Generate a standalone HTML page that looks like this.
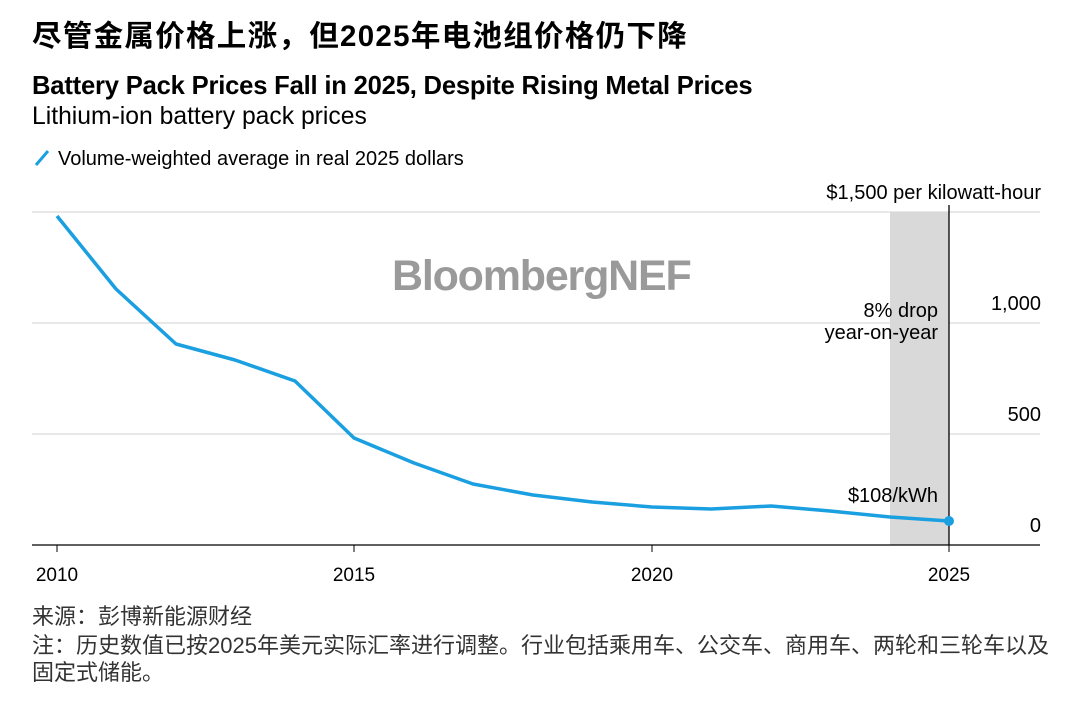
<!DOCTYPE html>
<html><head><meta charset="utf-8"><style>
body{margin:0;background:#fff;width:1080px;height:701px;overflow:hidden;font-family:"Liberation Sans","Noto Sans CJK SC",sans-serif;color:#000}
.t{position:absolute;white-space:nowrap}
</style></head><body>
<div class="t" style="left:32px;top:13px;font-size:29.5px;font-weight:bold;letter-spacing:1.3px">尽管金属价格上涨，但2025年电池组价格仍下降</div>
<div class="t" style="left:32px;top:72px;font-size:25.6px;font-weight:bold;letter-spacing:-0.2px">Battery Pack Prices Fall in 2025, Despite Rising Metal Prices</div>
<div class="t" style="left:32px;top:103px;font-size:24.7px;">Lithium-ion battery pack prices</div>
<div class="t" style="left:58px;top:148px;font-size:20px;">Volume-weighted average in real 2025 dollars</div>
<svg width="1080" height="701" style="position:absolute;left:0;top:0" font-family="Liberation Sans, sans-serif">
<line x1="36" y1="165" x2="48" y2="151" stroke="#1a9fe0" stroke-width="3"/>
<g stroke="#d0d0d0" stroke-width="1">
<line x1="32" y1="212" x2="1040" y2="212"/><line x1="32" y1="323" x2="1040" y2="323"/><line x1="32" y1="434" x2="1040" y2="434"/>
</g>
<rect x="890" y="212" width="59" height="333" fill="#d9d9d9"/>
<line x1="949" y1="205" x2="949" y2="545" stroke="#000" stroke-width="1.3"/>
<line x1="32" y1="545" x2="1040" y2="545" stroke="#000" stroke-width="1.3"/>
<g stroke="#000" stroke-width="1"><line x1="57" y1="545" x2="57" y2="552"/><line x1="354" y1="545" x2="354" y2="552"/><line x1="652" y1="545" x2="652" y2="552"/><line x1="949" y1="545" x2="949" y2="552"/></g>
<text x="392" y="290" font-size="43" fill="#9a9a9a" font-weight="bold" letter-spacing="-1.2">BloombergNEF</text>
<polyline fill="none" stroke="#1a9fe0" stroke-width="3.5" stroke-linejoin="round" points="57,216 116,289 176,344 235,360 295,381 354,438 414,463 473,484 533,495 592,502 652,507 711,509 771,506 830,511 890,517 949,521"/>
<circle cx="949" cy="521" r="5" fill="#1a9fe0"/>
<g font-size="20" text-anchor="end">
<text x="1041" y="199">$1,500 per kilowatt-hour</text>
<text x="1041" y="310">1,000</text>
<text x="1041" y="421">500</text>
<text x="1041" y="532">0</text>
<text x="938" y="317">8% drop</text>
<text x="938" y="339">year-on-year</text>
<text x="938" y="502">$108/kWh</text>
</g>
<g font-size="19" text-anchor="middle">
<text x="57" y="581">2010</text><text x="354" y="581">2015</text><text x="652" y="581">2020</text><text x="949" y="581">2025</text>
</g>
</svg>
<div class="t" style="left:32px;top:599px;font-size:22px;color:#333;">来源：彭博新能源财经</div>
<div class="t" style="left:32px;top:632px;font-size:22px;color:#333;line-height:27px;">注：历史数值已按2025年美元实际汇率进行调整。行业包括乘用车、公交车、商用车、两轮和三轮车以及<br>固定式储能。</div>
</body></html>
